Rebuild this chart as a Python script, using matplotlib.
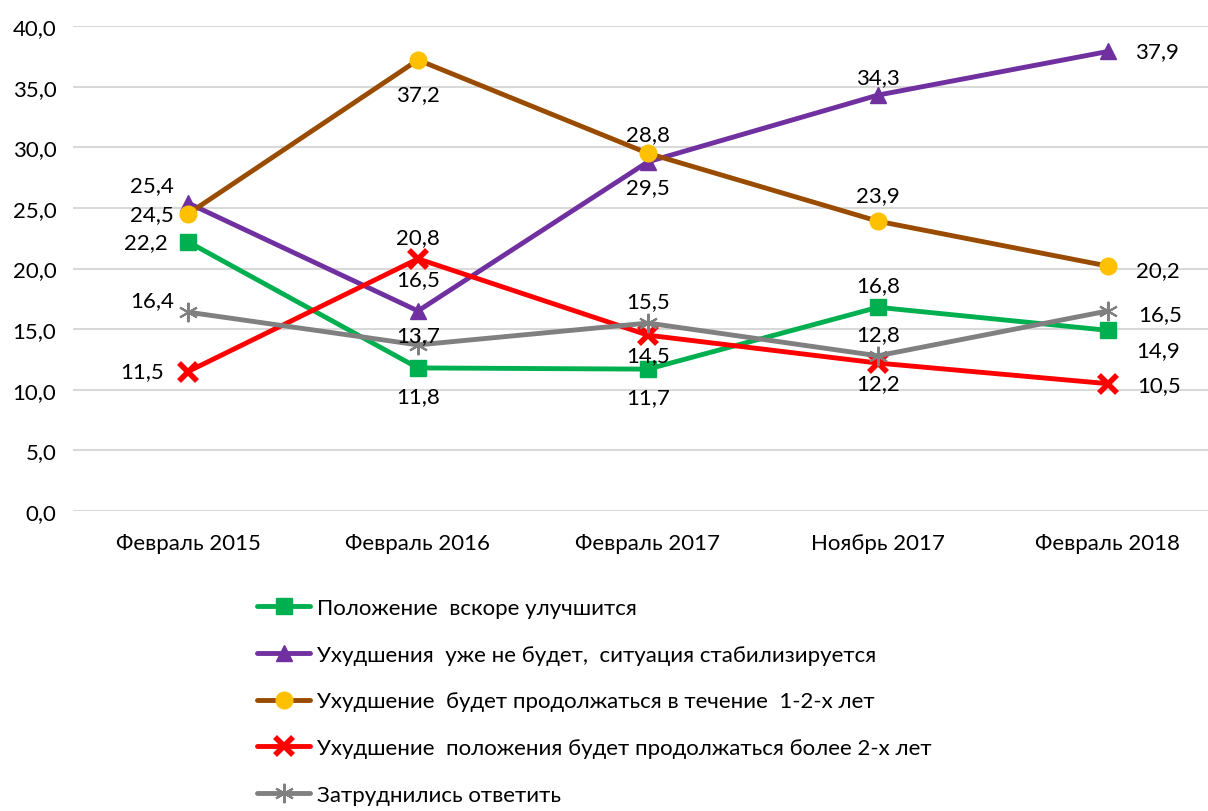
import matplotlib.pyplot as plt
from matplotlib.ticker import FuncFormatter

periods = ['Февраль 2015', 'Февраль 2016', 'Февраль 2017', 'Ноябрь 2017', 'Февраль 2018']
improve_soon = [22.2, 11.8, 11.7, 16.8, 14.9]
stabilizing = [25.4, 16.5, 28.8, 34.3, 37.9]
worse_1_2 = [24.5, 37.2, 29.5, 23.9, 20.2]
worse_more_2 = [11.5, 20.8, 14.5, 12.2, 10.5]
no_answer = [16.4, 13.7, 15.5, 12.8, 16.5]

names = ['Положение  вскоре улучшится',
         'Ухудшения  уже не будет,  ситуация стабилизируется',
         'Ухудшение  будет продолжаться в течение  1-2-х лет',
         'Ухудшение  положения будет продолжаться более 2-х лет',
         'Затруднились ответить']

plt.rcParams['font.family'] = ['Lato', 'DejaVu Sans']
FS = 16

fig = plt.figure(figsize=(12.08, 8.12), dpi=100)
ax = fig.add_axes([73 / 1208, 1 - 512 / 812, 1135 / 1208, 485 / 812])

x = list(range(len(periods)))

# (values, line colour, marker, marker face, marker size, label offsets in pixels)
series = [
    (improve_soon, '#00B050', 's', '#00B050', 11,
     [(-42, 0), (0, -28), (0, -28), (0, 22), (50, -20)]),
    (stabilizing, '#7030A0', '^', '#7030A0', 12,
     [(-36, 18), (0, 32), (0, 28), (0, 18), (49, 0)]),
    (worse_1_2, '#994C00', 'o', '#FFC000', 12,
     [(-36, 0), (0, -34), (0, -34), (0, 26), (50, -4)]),
    (worse_more_2, '#FF0000', 'x', '#FF0000', 13,
     [(-46, 0), (0, 22), (0, -20), (0, -20), (51, -1)]),
    (no_answer, '#808080', (6, 2, 0), '#808080', 14,
     [(-36, 12), (0, 10), (0, 22), (0, 22), (52, -3)]),
]

handles = []
for (vals, col, mk, face, ms, offs), name in zip(series, names):
    mew = 4 if mk == 'x' else (1.5 if mk == (6, 2, 0) else 1)
    h, = ax.plot(x, vals, color=col, lw=3.5, marker=mk, ms=ms,
                 markerfacecolor=face, markeredgecolor=face, markeredgewidth=mew,
                 label=name, zorder=3, solid_capstyle='round')
    handles.append(h)
    for xi, v, off in zip(x, vals, offs):
        ax.annotate(f'{v:.1f}'.replace('.', ','), (xi, v), xytext=off,
                    textcoords='offset pixels', ha='center', va='center',
                    fontsize=FS, color='black', zorder=4)

ax.set_ylim(0, 40)
ax.set_xlim(-0.5, 4.435)
ax.set_yticks(range(0, 41, 5))
ax.yaxis.set_major_formatter(FuncFormatter(lambda v, p: f'{v:.1f}'.replace('.', ',')))
ax.set_xticks(x)
ax.set_xticklabels(periods)
ax.tick_params(length=0, labelsize=FS)
ax.tick_params(axis='x', pad=16)
ax.tick_params(axis='y', pad=12)
ax.grid(axis='y', color='#D9D9D9', lw=1.5, zorder=0)
for s in ax.spines.values():
    s.set_visible(False)

fig.legend(handles=handles, loc='upper left',
           bbox_to_anchor=(246 / 1208, 1 - 588 / 812),
           frameon=False, fontsize=FS, handlelength=2.4, handletextpad=0.3,
           labelspacing=1.2, borderpad=0)

fig.savefig('out.png', dpi=100)
